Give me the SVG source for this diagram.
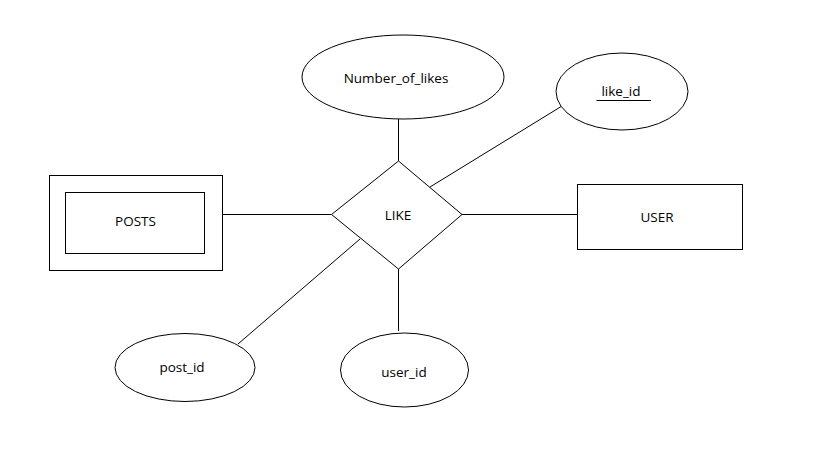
<svg xmlns="http://www.w3.org/2000/svg" width="818" height="456" viewBox="0 0 818 456">
<style>
.s{fill:#fff;stroke:#000;stroke-width:1}
.c line{stroke:#000;stroke-width:1}
text{font-family:"Open Sans","Noto Sans",sans-serif;font-size:13.5px;fill:#000;text-anchor:middle}
</style>
<rect width="818" height="456" fill="#fff"/>
<g class="c" id="connectors">
<line x1="222.5" y1="214.5" x2="331.5" y2="214.5"/>
<line x1="462" y1="214.5" x2="577.5" y2="214.5"/>
<line x1="398.5" y1="119" x2="398.5" y2="161"/>
<line x1="430" y1="187" x2="562" y2="106"/>
<line x1="398.5" y1="269" x2="398.5" y2="331"/>
<line x1="360" y1="239" x2="238" y2="344"/>
</g>
<g id="posts">
<rect class="s" x="49.5" y="175.5" width="173" height="95"/>
<rect class="s" x="65.5" y="192.5" width="139" height="61"/>
<text x="135.5" y="226">POSTS</text>
</g>
<g id="like">
<polygon class="s" points="331.5,214.5 398.5,161 462,214.5 398.5,269"/>
<text x="398" y="220">LIKE</text>
</g>
<g id="user">
<rect class="s" x="577.5" y="184.5" width="165" height="65"/>
<text x="657" y="222">USER</text>
</g>
<g id="number_of_likes">
<ellipse class="s" cx="403" cy="77" rx="101" ry="42"/>
<text x="396" y="83">Number_of_likes</text>
</g>
<g id="like_id">
<ellipse class="s" cx="622" cy="91.5" rx="66" ry="38.5"/>
<text x="621" y="96">like_id</text>
<line x1="596.5" y1="100.5" x2="651" y2="100.5" stroke="#000"/>
</g>
<g id="post_id">
<ellipse class="s" cx="185" cy="367.5" rx="70" ry="34"/>
<text x="182" y="372">post_id</text>
</g>
<g id="user_id">
<ellipse class="s" cx="404.5" cy="370" rx="64" ry="37"/>
<text x="404" y="377">user_id</text>
</g>
</svg>
